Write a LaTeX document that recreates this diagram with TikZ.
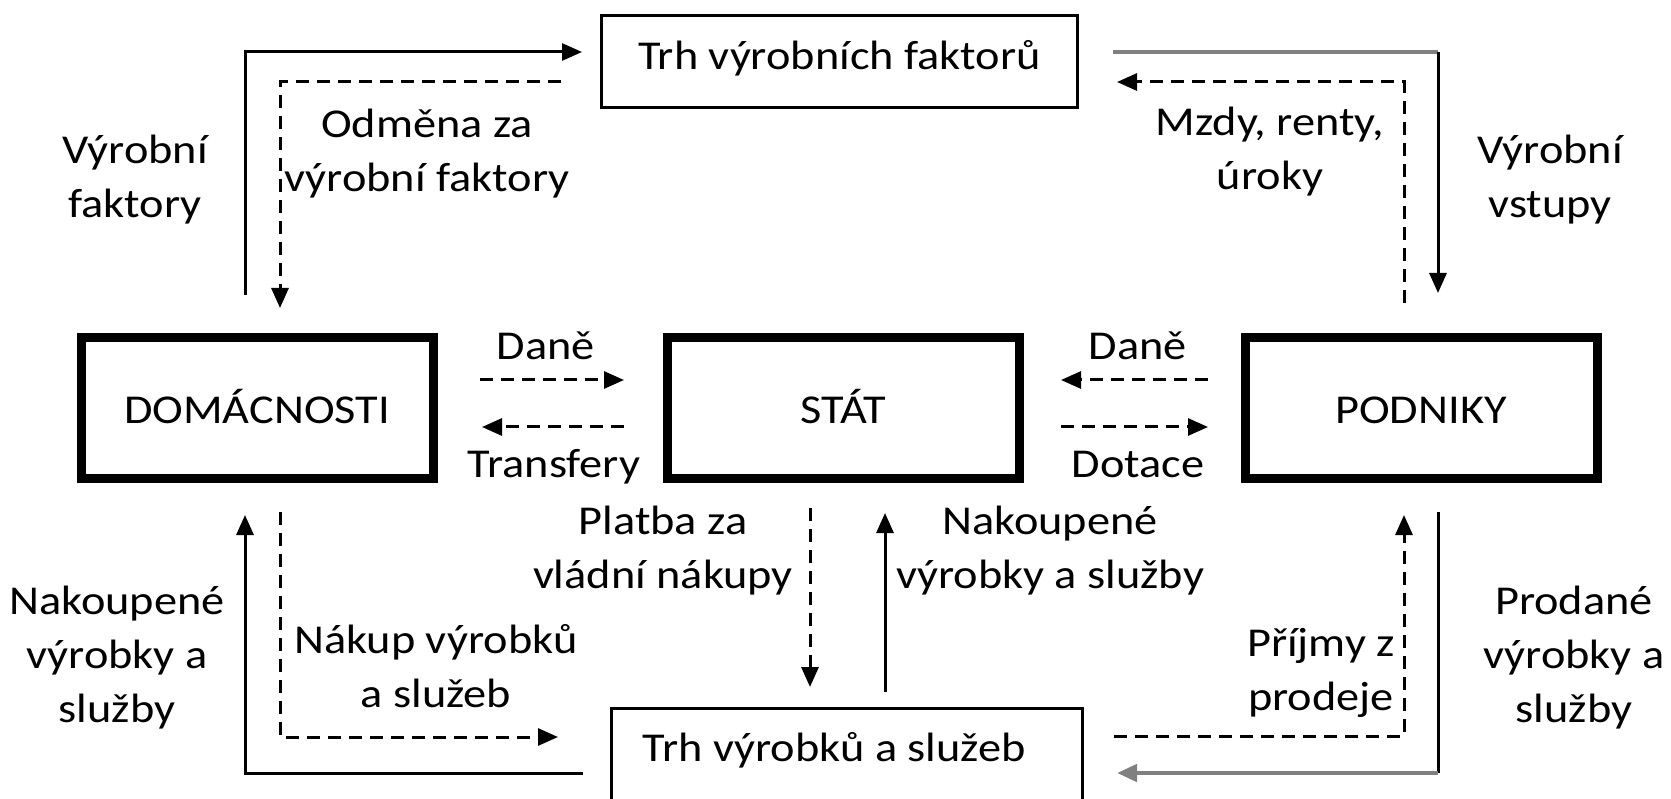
\documentclass[tikz,border=0pt]{standalone}
\usepackage{fontspec}
\setmainfont{Carlito}[FakeStretch=1.13]
\usetikzlibrary{arrows.meta}
\begin{document}
\begin{tikzpicture}[x=1pt,y=-1pt,
  font=\fontsize{41}{54}\selectfont,
  mktbox/.style={draw, line width=3pt, inner sep=0pt},
  agent/.style={draw, line width=9pt, inner sep=0pt, minimum width=352pt, minimum height=141pt, text height=32pt, text depth=0pt},
  lbl/.style={align=center, anchor=base, inner sep=0pt},
  flow/.style={line width=3pt, -{Triangle[length=20pt,width=17pt]}},
  plain/.style={line width=3pt},
  money/.style={flow, dash pattern=on 13pt off 8pt},
  grayline/.style={line width=4.5pt, draw=black!50}
]
\useasboundingbox (0,0) rectangle (1671,799);
\clip (0,0) rectangle (1671,799);

% boxes
\node[mktbox, minimum width=476pt, minimum height=92pt, text height=28pt, text depth=11pt] (tf) at (839.5,61.5) {Trh výrobních faktorů};
\node[mktbox, minimum width=471pt, minimum height=101pt, text height=22pt, text depth=18pt] (tv) at (847,759) {Trh výrobků a služeb\kern26pt\null};
\node[agent] (dom) at (257,408) {DOMÁCNOSTI};
\node[agent] (stat) at (843.5,408) {STÁT};
\node[agent] (pod) at (1421,408) {PODNIKY};

% labels (anchor = baseline of the last line)
\node[lbl] (l1) at (135,218) {Výrobní\\faktory};
\node[lbl] (l2) at (427,192) {Odměna za\\výrobní faktory};
\node[lbl] (l3) at (1270,190) {Mzdy, renty,\\úroky};
\node[lbl] (l4) at (1550,218) {Výrobní\\vstupy};
\node[lbl] (l5) at (546,360) {Daně};
\node[lbl] (l6) at (554,477) {Transfery};
\node[lbl] (l7) at (1138,360) {Daně};
\node[lbl] (l8) at (1138,477) {Dotace};
\node[lbl] (l9) at (117,722) {Nakoupené\\výrobky a\\služby};
\node[lbl] (l10) at (436,707) {Nákup výrobků\\a služeb};
\node[lbl] (l11) at (663,588) {Platba za\\vládní nákupy};
\node[lbl] (l12) at (1050,588) {Nakoupené\\výrobky a služby};
\node[lbl] (l13) at (1321,710) {Příjmy z\\prodeje};
\node[lbl] (l14) at (1574,722) {Prodané\\výrobky a\\služby};

% connector end points
\coordinate (a1s) at (245,295);  \coordinate (a1e) at (582,52);
\coordinate (a2s) at (561,82);   \coordinate (a2e) at (280,308);
\coordinate (a3s) at (1113,52);  \coordinate (a3c) at (1438,52); \coordinate (a3e) at (1438,293);
\coordinate (a4s) at (1404,303); \coordinate (a4e) at (1117,82);
\coordinate (a5s) at (480,380);  \coordinate (a5e) at (624,380);
\coordinate (a6s) at (624,427);  \coordinate (a6e) at (482,427);
\coordinate (a7s) at (1208,380); \coordinate (a7e) at (1061,380);
\coordinate (a8s) at (1061,427); \coordinate (a8e) at (1208,427);
\coordinate (a9s) at (583,773);  \coordinate (a9e) at (245,515);
\coordinate (a10s) at (280,512); \coordinate (a10e) at (558,737);
\coordinate (a11s) at (810,508); \coordinate (a11e) at (810,687);
\coordinate (a12s) at (885,692); \coordinate (a12e) at (885,513);
\coordinate (a13s) at (1114,736); \coordinate (a13e) at (1404,515);
\coordinate (a14s) at (1438,512); \coordinate (a14c) at (1438,773); \coordinate (a14e) at (1117,773);

% connectors
\draw[flow] (a1s) |- (a1e);
\draw[money] (a2s) -| (a2e);
\draw[grayline] (a3s) -- (a3c);
\draw[flow] (a3c) -- (a3e);
\draw[money] (a4s) |- (a4e);
\draw[money] (a5s) -- (a5e);
\draw[money] (a6s) -- (a6e);
\draw[money] (a7s) -- (a7e);
\draw[money] (a8s) -- (a8e);
\draw[flow] (a9s) -| (a9e);
\draw[money] (a10s) |- (a10e);
\draw[money] (a11s) -- (a11e);
\draw[flow] (a12s) -- (a12e);
\draw[money] (a13s) -| (a13e);
\draw[plain] (a14s) -- (a14c);
\draw[grayline, -{Triangle[length=20pt,width=17pt]}] (a14c) -- (a14e);
\end{tikzpicture}
\end{document}
